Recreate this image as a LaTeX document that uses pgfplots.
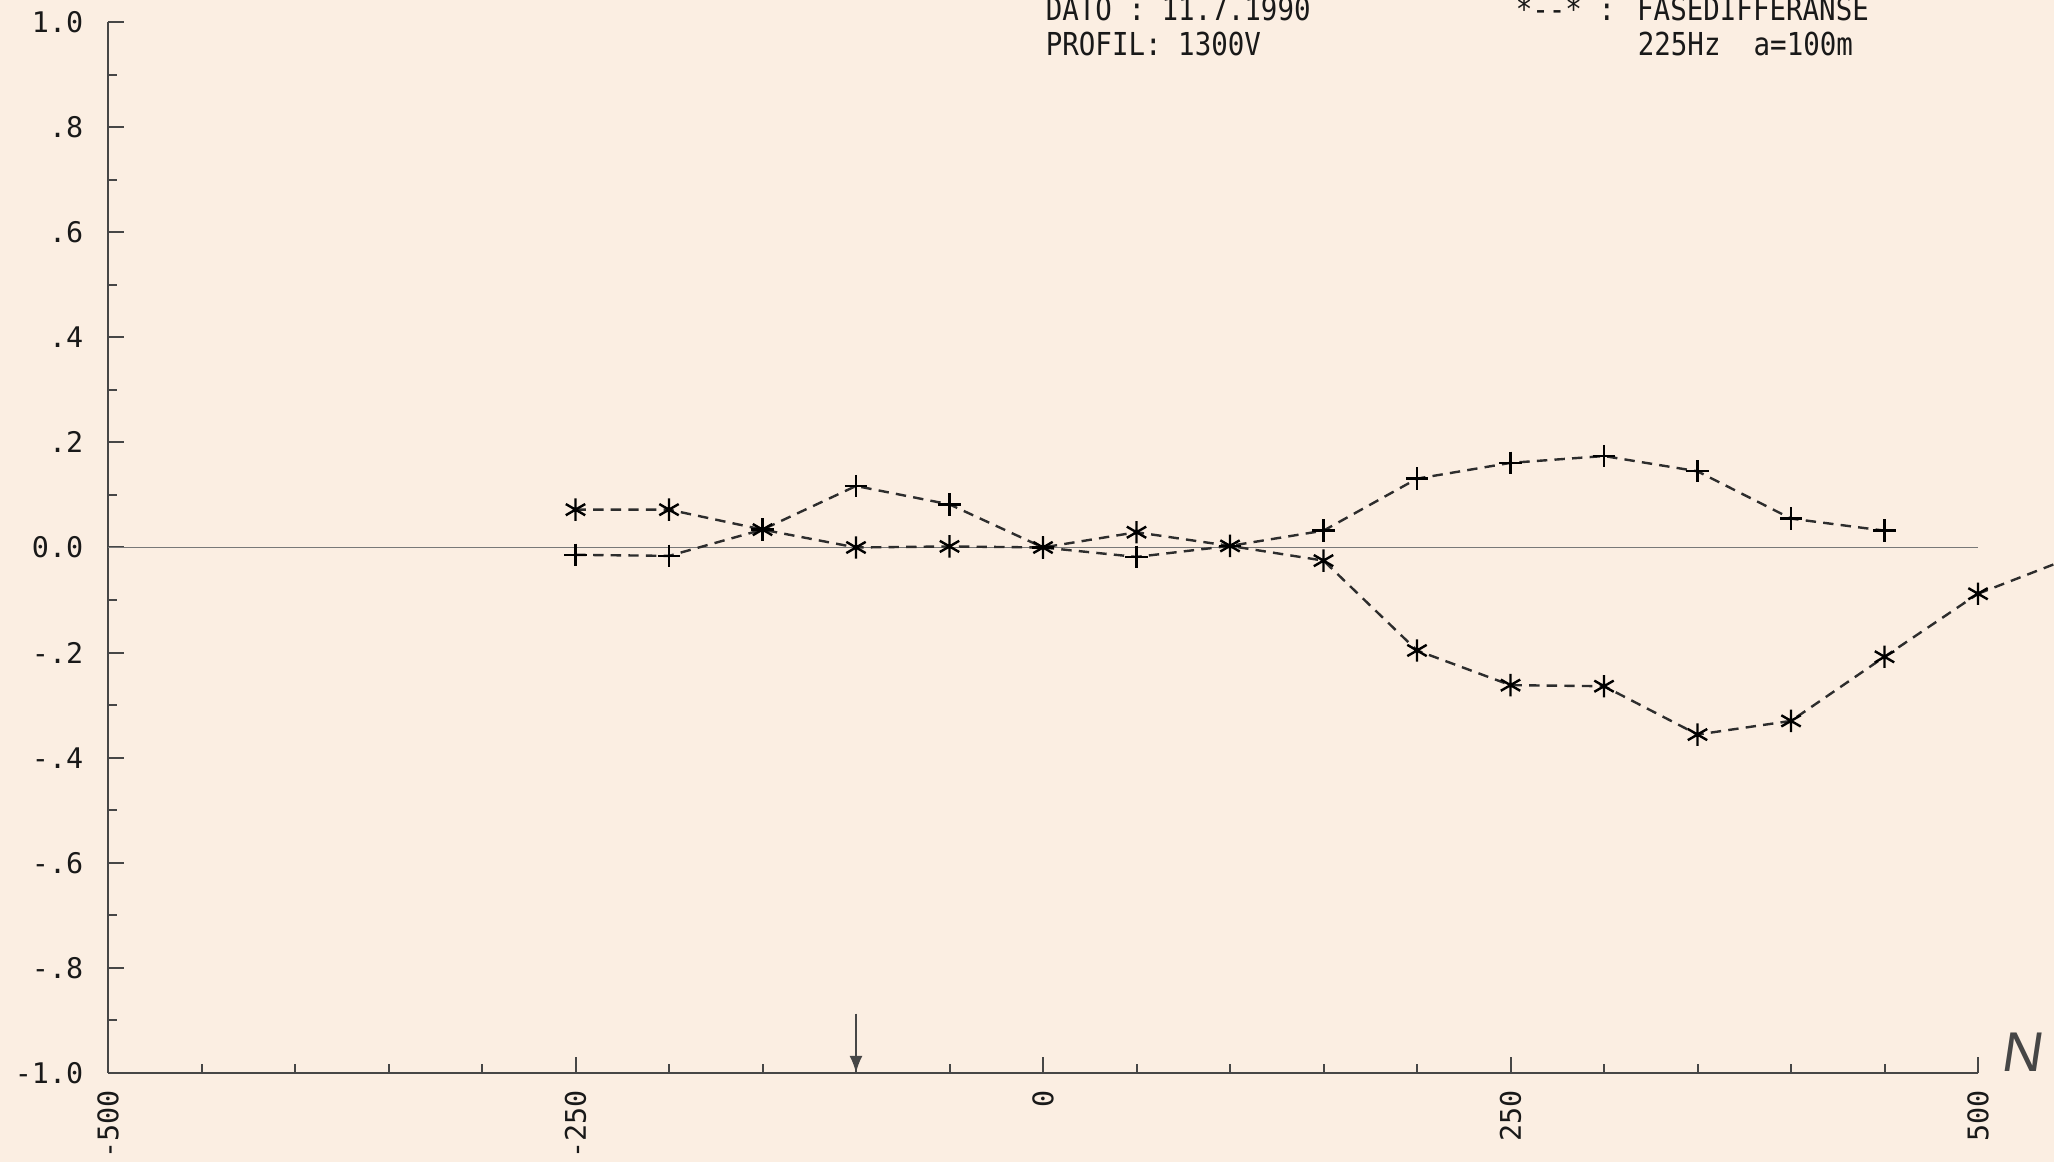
\documentclass[border=0pt]{standalone}
\usepackage{pgfplots}
\pgfplotsset{compat=1.18}
\usepackage{fontspec}
\newfontfamily\plotfont{DejaVu Sans Mono}
\newfontfamily\hdrfont[FakeStretch=0.87]{DejaVu Sans Mono}
\newfontfamily\nfont{Liberation Sans}
\definecolor{bg}{RGB}{251,238,226}
\definecolor{ink}{RGB}{25,25,25}
\definecolor{axc}{RGB}{70,70,70}
\definecolor{dashc}{RGB}{45,45,45}
\definecolor{zeroc}{RGB}{120,120,120}
\begin{document}
\begin{tikzpicture}
\useasboundingbox (0,0) rectangle (513.5pt,290.5pt);
\fill[bg] (0,0) rectangle (513.5pt,290.5pt);
\begin{axis}[
  at={(27pt,22.25pt)}, anchor=south west,
  scale only axis, width=467.5pt, height=262.75pt,
  xmin=-500, xmax=500, ymin=-1, ymax=1,
  clip=false,
  axis lines*=left,
  axis line style={axc, line width=0.5pt},
  tick style={axc, line width=0.5pt},
  tick align=inside,
  major tick length=4pt, minor tick length=2.2pt,
  xtick={-500,-250,0,250,500},
  xticklabels={-500,-250,0,250,500},
  minor x tick num=4,
  ytick={-1,-0.8,-0.6,-0.4,-0.2,0,0.2,0.4,0.6,0.8,1},
  yticklabels={-1.0,-.8,-.6,-.4,-.2,0.0,.2,.4,.6,.8,1.0},
  minor y tick num=1,
  xticklabel style={font=\fontsize{7.1}{7}\plotfont, text=ink, rotate=90, anchor=east, inner sep=0pt},
  xticklabel shift=4.2pt,
  yticklabel style={font=\fontsize{7.1}{7}\plotfont, text=ink, anchor=east, inner sep=0pt},
  yticklabel shift=6pt,
]
\addplot[zeroc, line width=0.4pt] coordinates {(-500,0) (500,0)};
\addplot[dashc, line width=0.6pt, dash pattern=on 2.6pt off 1.8pt,
  mark=+, mark size=2.8pt, mark options={solid, black, line width=0.6pt}]
  coordinates {(-250,-0.014) (-200,-0.016) (-150,0.034) (-100,0.117) (-50,0.082)
  (0,0) (50,-0.018) (100,0.003) (150,0.032) (200,0.131) (250,0.161) (300,0.174)
  (350,0.145) (400,0.055) (450,0.032)};
\addplot[dashc, line width=0.6pt, dash pattern=on 2.6pt off 1.8pt,
  mark=asterisk, mark size=2.8pt, mark options={solid, black, line width=0.6pt}]
  coordinates {(-250,0.072) (-200,0.072) (-150,0.034) (-100,0.0) (-50,0.002)
  (0,0) (50,0.029) (100,0.003) (150,-0.025) (200,-0.196) (250,-0.262) (300,-0.264)
  (350,-0.356) (400,-0.33) (450,-0.208) (500,-0.088)};
\addplot[dashc, line width=0.6pt, dash pattern=on 2.6pt off 1.8pt]
  coordinates {(500,-0.088) (550,-0.019)};
\draw[axc, line width=0.5pt, -latex] (axis cs:-100,-0.887) -- (axis cs:-100,-1);
\end{axis}
\node[anchor=base west, inner sep=0pt, text=ink, font=\fontsize{7.9}{8}\hdrfont] at (261.25pt,285.25pt) {DATO : 11.7.1990};
\node[anchor=base west, inner sep=0pt, text=ink, font=\fontsize{7.9}{8}\hdrfont] at (261.25pt,276.5pt) {PROFIL: 1300V};
\node[anchor=base west, inner sep=0pt, text=ink, font=\fontsize{7.9}{8}\hdrfont] at (378.75pt,285.25pt) {*--* : FASEDIFFERANSE};
\node[anchor=base west, inner sep=0pt, text=ink, font=\fontsize{7.9}{8}\hdrfont] at (409.25pt,276.5pt) {225Hz\ \ a=100m};
\node[inner sep=0pt, text=axc, font=\fontsize{14}{14}\nfont, xslant=0.15] at (506pt,27.5pt) {N};
\end{tikzpicture}
\end{document}
